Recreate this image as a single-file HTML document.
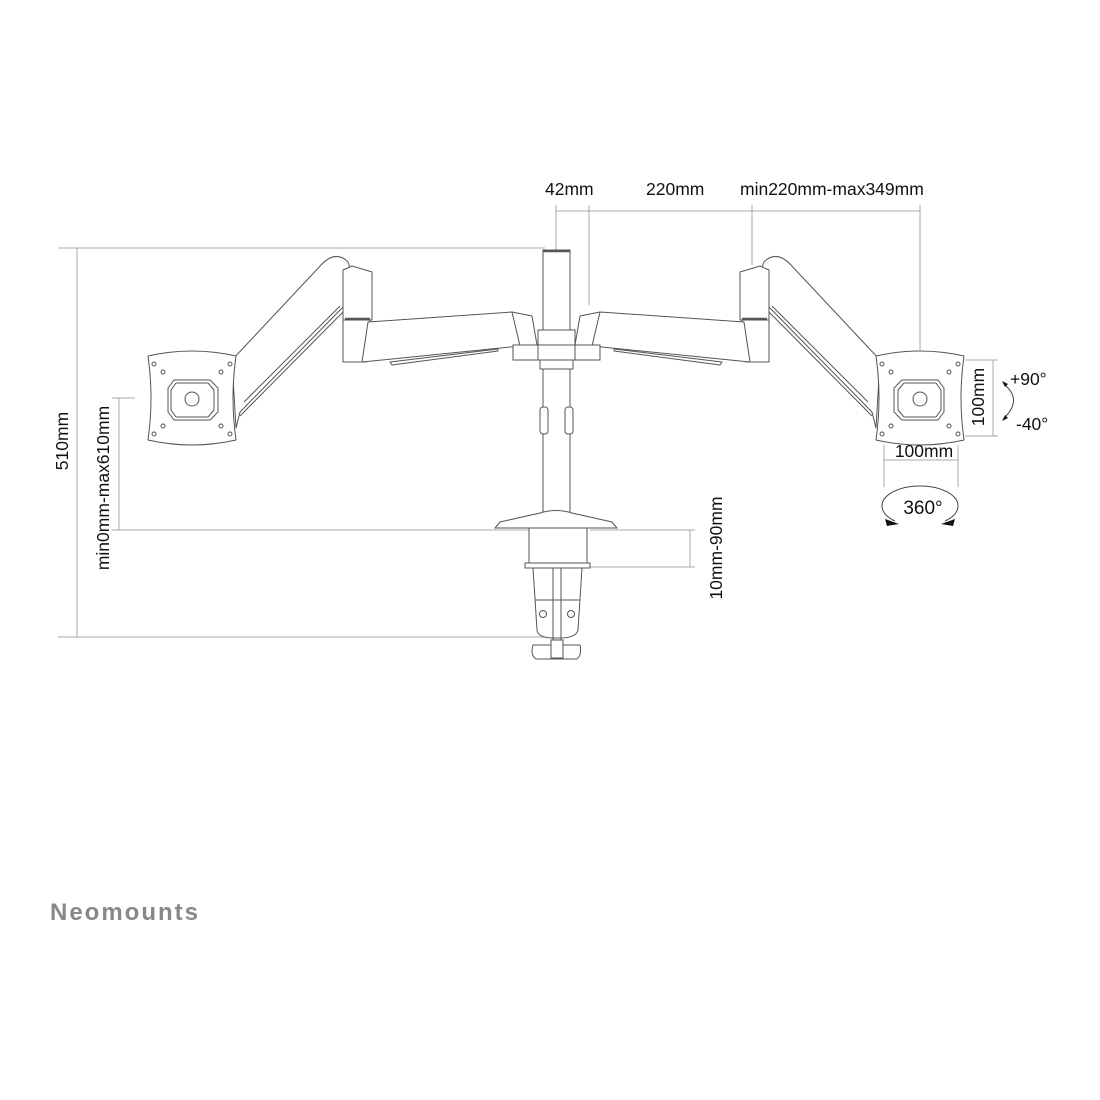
<!DOCTYPE html>
<html><head><meta charset="utf-8"><style>
html,body{margin:0;padding:0;background:#fff;}
svg{display:block;}
text{font-family:"Liberation Sans",sans-serif;fill:#111;}
</style></head><body>
<svg width="1100" height="1100" viewBox="0 0 1100 1100" xmlns="http://www.w3.org/2000/svg">
<g stroke="#aaa" stroke-width="1" fill="none">
  <line x1="556" y1="211" x2="920" y2="211"/>
  <line x1="556" y1="205" x2="556" y2="250"/>
  <line x1="589" y1="205" x2="589" y2="305"/>
  <line x1="752" y1="205" x2="752" y2="265"/>
  <line x1="920" y1="205" x2="920" y2="350"/>
  <line x1="77" y1="248" x2="77" y2="637"/>
  <line x1="58" y1="248" x2="545" y2="248"/>
  <line x1="58" y1="637" x2="548" y2="637"/>
  <line x1="119" y1="398" x2="119" y2="530"/>
  <line x1="112" y1="398" x2="135" y2="398"/>
  <line x1="112" y1="530" x2="540" y2="530"/>
  <line x1="690" y1="530" x2="690" y2="567"/>
  <line x1="590" y1="530" x2="695" y2="530"/>
  <line x1="590" y1="567" x2="695" y2="567"/>
  <line x1="993" y1="360" x2="993" y2="436"/>
  <line x1="965" y1="360" x2="998" y2="360"/>
  <line x1="965" y1="436" x2="998" y2="436"/>
  <line x1="884" y1="460" x2="958" y2="460"/>
  <line x1="884" y1="445" x2="884" y2="487"/>
  <line x1="958" y1="445" x2="958" y2="487"/>
</g>
<g stroke="#444" fill="none" stroke-width="1">
  <path d="M1005 385 Q1022 400 1005 417"/>
  <path d="M895 521 A38 20 0 1 1 945 521"/>
</g>
<path d="M1002 381 l6 3 l-3 3z M1002 421 l6 -3 l-3 -3z" fill="#111"/>
<path d="M885 519 l14 5 l-12 2z M955 519 l-14 5 l12 2z" fill="#111"/>

<g id="half" stroke="#555" stroke-width="1" fill="#fff" stroke-linejoin="round">
  <path d="M232 360 L322 264 Q336 250 348 262 L356 285 Q356 296 346 304 L240 412 L236 428 Z"/>
  <path d="M244 402 L340 306" fill="none"/>
  <path d="M240 416 L345 310" fill="none"/>
  <path d="M343 270 L352 266 L372 272 L372 320 L343 320 Z"/>
  <path d="M343 320 L370 320 L366 362 L343 362 Z"/>
  <line x1="345" y1="319" x2="370" y2="319" stroke-width="2.5"/>
  <path d="M368 322 L512 312 L532 316 L537 345 L520 346 L362 362 Z"/>
  <path d="M390 362 L498 349 L498 351 L392 365 Z"/>
  <line x1="512" y1="312" x2="520" y2="346" fill="none"/>
  <path d="M148 356 Q192 346 236 356 Q230 398 236 440 Q192 450 148 440 Q154 398 148 356 Z"/>
  <path d="M174 380 L210 380 L218 388 L218 412 L210 420 L174 420 L168 412 L168 388 Z"/>
  <path d="M176 383 L208 383 L214 390 L214 410 L208 417 L176 417 L171 410 L171 390 Z" fill="none"/>
  <circle cx="192" cy="399" r="7"/>
  <circle cx="154" cy="364" r="2"/><circle cx="230" cy="364" r="2"/>
  <circle cx="154" cy="434" r="2"/><circle cx="230" cy="434" r="2"/>
  <circle cx="163" cy="372" r="2"/><circle cx="221" cy="372" r="2"/>
  <circle cx="163" cy="426" r="2"/><circle cx="221" cy="426" r="2"/>
</g>
<use href="#half" transform="translate(1112,0) scale(-1,1)"/>

<g stroke="#555" stroke-width="1" fill="#fff">
  <rect x="543" y="250" width="27" height="265"/>
  <line x1="543" y1="251" x2="570" y2="251" stroke-width="2.5"/>
  <rect x="538" y="330" width="37" height="16"/>
  <rect x="513" y="345" width="87" height="15"/>
  <line x1="538" y1="345" x2="538" y2="360"/><line x1="575" y1="345" x2="575" y2="360"/>
  <rect x="540" y="360" width="33" height="9"/>
  <rect x="540" y="407" width="8" height="27" rx="3"/>
  <rect x="565" y="407" width="8" height="27" rx="3"/>
  <path d="M540 513 Q556 508 572 513 L612 522 L617 528 L495 528 L500 522 Z"/>
  <path d="M529 528 L587 528 L587 563 L529 563 Z"/>
  <rect x="525" y="563" width="65" height="5"/>
  <path d="M533 568 L582 568 L578 630 Q576 638 560 638 L554 638 Q538 638 537 630 Z"/>
  <line x1="553" y1="568" x2="553" y2="640"/><line x1="561" y1="568" x2="561" y2="640"/>
  <line x1="535" y1="600" x2="580" y2="600"/>
  <circle cx="543" cy="614" r="3.5"/><circle cx="571" cy="614" r="3.5"/>
  <path d="M533 645 L580 645 Q582 655 577 659 L536 659 Q530 655 533 645 Z"/>
  <rect x="551" y="640" width="12" height="18"/>
</g>

<g font-size="17.5">
  <text x="545" y="195">42mm</text>
  <text x="646" y="195">220mm</text>
  <text x="740" y="195">min220mm-max349mm</text>
  <text x="68" y="441" text-anchor="middle" transform="rotate(-90 68 441)">510mm</text>
  <text x="109" y="488" text-anchor="middle" transform="rotate(-90 109 488)">min0mm-max610mm</text>
  <text x="722" y="548" text-anchor="middle" transform="rotate(-90 722 548)">10mm-90mm</text>
  <text x="984" y="397" text-anchor="middle" transform="rotate(-90 984 397)">100mm</text>
  <text x="1010" y="385">+90°</text>
  <text x="1016" y="430">-40°</text>
  <text x="924" y="457" text-anchor="middle">100mm</text>
  <text x="923" y="514" text-anchor="middle" font-size="19">360°</text>
</g>
<text x="50" y="920" font-size="24" letter-spacing="2" style="fill:#888;font-weight:bold">Neomounts</text>
</svg>
</body></html>
